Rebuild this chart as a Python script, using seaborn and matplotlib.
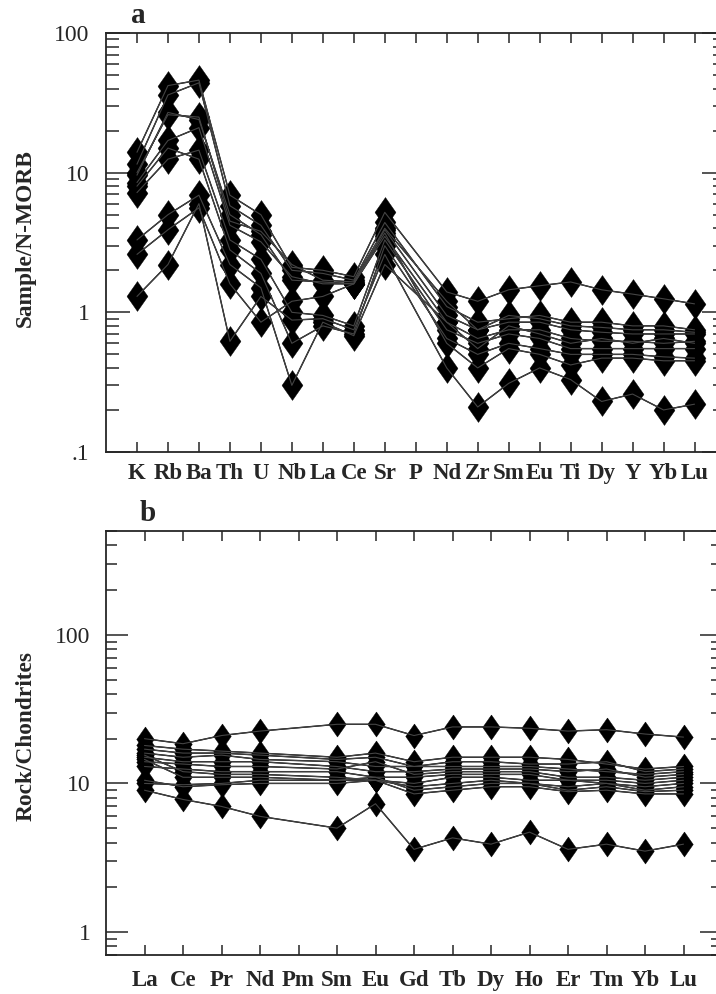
import numpy as np
import pandas as pd
import matplotlib
matplotlib.use("Agg")
import matplotlib.pyplot as plt
import seaborn as sns
from matplotlib.ticker import FixedLocator, LogLocator, NullFormatter

# ---- (a) N-MORB normalised spider diagram ----
spider_elements = ["K", "Rb", "Ba", "Th", "U", "Nb", "La", "Ce", "Sr", "P",
                   "Nd", "Zr", "Sm", "Eu", "Ti", "Dy", "Y", "Yb", "Lu"]
nan = np.nan
morb_h1 = [14, 42, 46, 6.9, 5.0, 2.1, 2.0, 1.8, 5.2, nan, 1.4, 1.2, 1.45, 1.55, 1.65, 1.45, 1.35, 1.25, 1.15]
morb_h2 = [11.5, 36, 44, 5.8, 4.2, 2.0, 1.9, 1.7, 4.4, nan, 1.1, 0.85, 0.9, 0.95, 0.85, 0.85, 0.8, 0.8, 0.75]
morb_h3 = [9.6, 27, 24, 5.0, 3.6, 1.7, 1.65, 1.6, 3.9, nan, 0.95, 0.75, 0.85, 0.85, 0.75, 0.72, 0.7, 0.7, 0.7]
morb_h4 = [8.5, 17, 21, 4.2, 3.2, 1.8, 1.6, 1.6, 3.5, nan, 0.85, 0.65, 0.75, 0.75, 0.65, 0.62, 0.62, 0.6, 0.62]
morb_h5 = [7.2, 12.5, 14.5, 3.3, 2.4, 1.0, 0.95, 0.8, 3.3, nan, 0.75, 0.6, 0.7, 0.65, 0.55, 0.55, 0.55, 0.55, 0.55]
morb_h6 = [8.0, 15, 12.5, 2.8, 1.9, 0.6, 0.8, 0.7, 3.0, nan, 0.65, 0.5, 0.6, 0.55, 0.5, 0.5, 0.5, 0.48, 0.47]
morb_h7 = [10, 26, 25, 4.5, 3.8, 2.2, 1.7, 1.65, 4.0, nan, 1.2, 0.75, 0.95, 0.9, 0.8, 0.78, 0.75, 0.75, 0.72]
morb_l1 = [3.3, 5.0, 6.9, 2.2, 1.5, 0.3, 0.85, 0.68, 2.2, nan, 0.85, 0.55, 0.8, 0.7, 0.6, 0.65, 0.6, 0.65, 0.6]
morb_l2 = [2.6, 3.9, 5.6, 1.6, 0.85, 1.2, 1.3, 1.6, 3.7, nan, 0.6, 0.4, 0.55, 0.5, 0.42, 0.47, 0.47, 0.45, 0.45]
morb_l3 = [1.3, 2.2, 6.0, 0.62, 1.3, 0.88, 0.9, 0.75, 2.6, nan, 0.4, 0.21, 0.31, 0.4, 0.33, 0.23, 0.26, 0.2, 0.22]
morb_samples = [morb_h1, morb_h2, morb_h3, morb_h4, morb_h5, morb_h6, morb_h7,
                morb_l1, morb_l2, morb_l3]

# ---- (b) chondrite normalised REE ----
ree_elements = ["La", "Ce", "Pr", "Nd", "Pm", "Sm", "Eu", "Gd", "Tb", "Dy",
                "Ho", "Er", "Tm", "Yb", "Lu"]
ree_s1 = [20, 18.5, 21, 22.5, nan, 25, 25, 21, 24, 24, 23.5, 22.5, 23, 21.5, 20.5]
ree_s2 = [18, 17, 16.5, 16, nan, 15, 16, 14, 15, 15, 15, 14.5, 13.5, 12.5, 13]
ree_s3 = [17, 16, 16, 15.5, nan, 14.5, 15, 13, 14, 14, 13.5, 13.5, 14, 12, 12.5]
ree_s4 = [16, 15, 15.5, 14.5, nan, 14, 13, 13, 13, 13, 13, 12.5, 12, 11.5, 12]
ree_s5 = [15, 14, 14, 14, nan, 13, 12, 12, 12.5, 12.5, 12.5, 12, 12.5, 11, 11.5]
ree_s6 = [14, 13.5, 13, 13, nan, 12.5, 14, 11.5, 12, 12, 12, 11, 11, 10.5, 11]
ree_s7 = [13, 12.5, 12, 12, nan, 12, 11, 11, 11.5, 11.5, 11.5, 10.5, 10.5, 10, 10.5]
ree_s8 = [15.5, 12, 11.5, 11.5, nan, 11, 10.5, 10, 11, 11, 10.5, 10.5, 10, 9.5, 10]
ree_s9 = [14.5, 11, 11, 11, nan, 10.5, 10.5, 9.5, 10, 10.5, 10, 9.5, 10, 9, 9.5]
ree_s10 = [10, 9.8, 10, 10.5, nan, 10.5, 11, 9, 9.5, 10, 10, 9, 9.5, 8.8, 9]
ree_s11 = [10.5, 9.5, 9.8, 10, nan, 10, 10.5, 8.5, 9, 9.5, 9.5, 8.8, 9, 8.5, 8.5]
ree_s12 = [9, 7.8, 7, 6, nan, 5, 7.3, 3.6, 4.3, 3.9, 4.7, 3.6, 3.9, 3.5, 3.9]
ree_samples = [ree_s1, ree_s2, ree_s3, ree_s4, ree_s5, ree_s6, ree_s7, ree_s8,
               ree_s9, ree_s10, ree_s11, ree_s12]


def to_long(elements, samples):
    rows = []
    for k, vals in enumerate(samples):
        for i, v in enumerate(vals):
            rows.append({"sample": k, "pos": i + 1, "element": elements[i], "value": v})
    return pd.DataFrame(rows)


df_a = to_long(spider_elements, morb_samples)
df_b = to_long(ree_elements, ree_samples)

sns.set_style("ticks")
plt.rcParams["font.family"] = ["Liberation Serif", "DejaVu Serif"]

fig = plt.figure(figsize=(7.16, 9.94), dpi=100)
W, H = 716.0, 994.0
ax1 = fig.add_axes([106 / W, 1 - 452 / H, (725.5 - 106) / W, (452 - 33) / H])
ax2 = fig.add_axes([106 / W, 1 - 955 / H, (722 - 106) / W, (955 - 531) / H])

# tall diamond, a bit fatter than matplotlib's 'd'
diamond = [(0, 1), (0.7, 0), (0, -1), (-0.7, 0), (0, 1)]


def draw(ax, df, ms):
    sns.lineplot(data=df, x="pos", y="value", units="sample", estimator=None,
                 color="black", lw=1.0, marker=diamond, markersize=ms,
                 markerfacecolor="black", markeredgecolor="black",
                 markeredgewidth=0.3, legend=False, ax=ax)
    # thin lines drawn again on top, as in the original figure
    sns.lineplot(data=df, x="pos", y="value", units="sample", estimator=None,
                 color="#444444", lw=0.8, legend=False, ax=ax)


draw(ax1, df_a, 21.5)
draw(ax2, df_b, 18)


def style(ax, elements, xmax, ylim, ylabels, label, letter, letter_x,
          tick_major, tick_minor, xpad, ypad):
    ax.set_yscale("log")
    ax.set_xlim(0, xmax)
    ax.set_ylim(*ylim)
    ax.set_xticks(range(1, len(elements) + 1))
    ax.set_xticklabels(elements, fontweight="bold", fontsize=16.5)
    ax.yaxis.set_major_locator(FixedLocator(list(ylabels.keys())))
    ax.set_yticklabels(list(ylabels.values()), fontsize=17)
    ax.yaxis.set_minor_locator(LogLocator(base=10, subs=np.arange(2, 10)))
    ax.yaxis.set_minor_formatter(NullFormatter())
    ax.tick_params(axis="x", which="major", direction="in", top=True, bottom=True,
                   length=7.2, width=1.1, pad=xpad)
    ax.tick_params(axis="y", which="major", direction="in", left=True, right=True,
                   length=tick_major, width=1.1, pad=ypad)
    ax.tick_params(axis="y", which="minor", direction="in", left=True, right=True,
                   length=tick_minor, width=1.1)
    for sp in ax.spines.values():
        sp.set_linewidth(1.3)
    ax.set_xlabel("")
    ax.set_ylabel(label, fontweight="bold", fontsize=16.8)
    ax.text(letter_x, 1.01, letter, transform=ax.transAxes, fontweight="bold",
            fontsize=21, ha="left", va="bottom")


style(ax1, spider_elements, 20, (0.1, 100),
      {0.1: ".1", 1: "1", 10: "10", 100: "100"},
      "Sample/N-MORB", "a", 0.04, 17, 9.4, 8, 12)
style(ax2, ree_elements, 16, (0.7, 500),
      {1: "1", 10: "10", 100: "100"},
      "Rock/Chondrites", "b", 0.055, 15.8, 7.9, 11, 11)

ax1.yaxis.set_label_coords(-0.113, 0.511)
ax2.yaxis.set_label_coords(-0.113, 0.516)

fig.savefig("out.png", dpi=100)
